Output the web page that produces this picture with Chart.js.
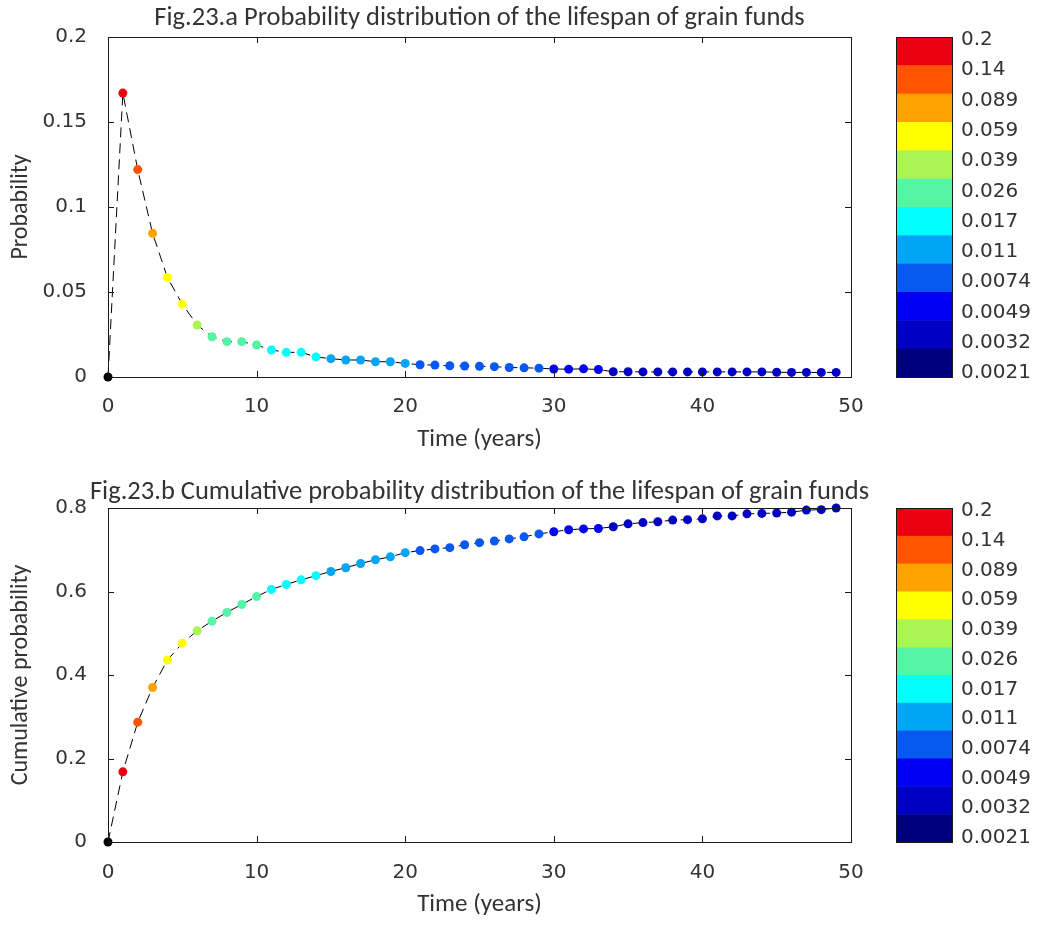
<!DOCTYPE html>
<html>
<head>
<meta charset="utf-8">
<script src="https://cdn.jsdelivr.net/npm/chart.js@4.4.1/dist/chart.umd.min.js"></script>
<style>
  html, body { margin: 0; padding: 0; background: #ffffff; }
  #wrap { position: relative; width: 1040px; height: 925px; background: #ffffff; }
  canvas { position: absolute; left: 0; }
</style>
</head>
<body>
<div id="wrap">
  <canvas id="pdf" width="1040" height="462" style="top:0px"></canvas>
  <canvas id="cdf" width="1040" height="463" style="top:462px"></canvas>
</div>
<script>
// Lifespan of grain funds, one value per year
const years = [0, 1, 2, 3, 4, 5, 6, 7, 8, 9,
  10, 11, 12, 13, 14, 15, 16, 17, 18, 19,
  20, 21, 22, 23, 24, 25, 26, 27, 28, 29,
  30, 31, 32, 33, 34, 35, 36, 37, 38, 39,
  40, 41, 42, 43, 44, 45, 46, 47, 48, 49];

const probability = [0, 0.167, 0.122, 0.0845, 0.0585, 0.0429, 0.0306, 0.0237, 0.0208, 0.0208,
  0.0188, 0.0159, 0.0145, 0.0145, 0.0118, 0.0108, 0.0100, 0.0100, 0.0090, 0.0090,
  0.0080, 0.0072, 0.0070, 0.0066, 0.0065, 0.0063, 0.0061, 0.0056, 0.0054, 0.0052,
  0.0047, 0.0046, 0.0048, 0.0044, 0.0031, 0.0031, 0.0030, 0.0030, 0.0030, 0.0030,
  0.0030, 0.0030, 0.0030, 0.0030, 0.0030, 0.0028, 0.0027, 0.0027, 0.0027, 0.0027];

const cumulative = [0, 0.168, 0.287, 0.370, 0.436, 0.476, 0.506, 0.529, 0.550, 0.569,
  0.588, 0.605, 0.617, 0.628, 0.638, 0.648, 0.657, 0.667, 0.676, 0.683,
  0.693, 0.698, 0.702, 0.705, 0.712, 0.717, 0.721, 0.726, 0.731, 0.738,
  0.743, 0.748, 0.750, 0.751, 0.755, 0.762, 0.765, 0.767, 0.771, 0.772,
  0.774, 0.781, 0.781, 0.786, 0.787, 0.788, 0.790, 0.795, 0.796, 0.800];

const xTicks = [0, 10, 20, 30, 40, 50];
const pdfTicks = [0, 0.05, 0.1, 0.15, 0.2];
const cdfTicks = [0, 0.2, 0.4, 0.6, 0.8];

// Colour bar, listed from top to bottom
const colorbarLabels = ['0.2', '0.14', '0.089', '0.059', '0.039', '0.026',
  '0.017', '0.011', '0.0074', '0.0049', '0.0032', '0.0021'];
const colorbarBands = ['#ea0010', '#ff5400', '#ffa200', '#ffff00', '#aaf552', '#55f5a5',
  '#00ffff', '#00a6f5', '#0758f0', '#0000f5', '#0000c2', '#00007e'];

const pdfTitle = 'Fig.23.a Probability distribution of the lifespan of grain funds';
const cdfTitle = 'Fig.23.b Cumulative probability distribution of the lifespan of grain funds';

const TICK_FONT = 'DejaVu Sans, Liberation Sans, Arial, sans-serif';
const TEXT_FONT = 'Carlito, Lato, "Open Sans", sans-serif';
const TEXT_COLOR = '#333333';

// Lower bound of each band, ascending (band 0 is below the smallest label)
const bandThresholds = colorbarLabels.slice(1).map(Number).reverse();
const bandsAscending = colorbarBands.slice().reverse();

function markerColor(v) {
  if (!(v > 0)) return '#000000';
  let idx = 0;
  for (const t of bandThresholds) if (v >= t) idx++;
  return bandsAscending[idx];
}

// Box, inward ticks on all four sides, plot title and colour bar
const framePlugin = {
  id: 'frame',
  afterDraw(chart, args, opts) {
    const { ctx, chartArea: a, scales } = chart;
    const tl = 6;
    ctx.save();
    ctx.strokeStyle = '#1a1a1a';
    ctx.lineWidth = 1;
    ctx.strokeRect(Math.round(a.left) + 0.5, Math.round(a.top) + 0.5,
      Math.round(a.right - a.left), Math.round(a.bottom - a.top));
    ctx.beginPath();
    scales.x.ticks.forEach(t => {
      const px = Math.round(scales.x.getPixelForValue(t.value)) + 0.5;
      ctx.moveTo(px, a.bottom); ctx.lineTo(px, a.bottom - tl);
      ctx.moveTo(px, a.top); ctx.lineTo(px, a.top + tl);
    });
    scales.y.ticks.forEach(t => {
      const py = Math.round(scales.y.getPixelForValue(t.value)) + 0.5;
      ctx.moveTo(a.left, py); ctx.lineTo(a.left + tl, py);
      ctx.moveTo(a.right, py); ctx.lineTo(a.right - tl, py);
    });
    ctx.stroke();

    // title
    ctx.fillStyle = TEXT_COLOR;
    ctx.font = opts.titleSize + 'px ' + TEXT_FONT;
    ctx.textAlign = 'center';
    ctx.textBaseline = 'middle';
    ctx.fillText(opts.title, (a.left + a.right) / 2, opts.titleY);

    // colour bar
    const cbLeft = 896, cbRight = 953;
    const h = a.bottom - a.top;
    const n = colorbarBands.length;
    colorbarBands.forEach((c, i) => {
      const y0 = a.top + h * i / n, y1 = a.top + h * (i + 1) / n;
      ctx.fillStyle = c;
      ctx.fillRect(cbLeft, y0, cbRight - cbLeft, y1 - y0 + 0.5);
    });
    ctx.strokeStyle = '#1a1a1a';
    ctx.strokeRect(cbLeft + 0.5, Math.round(a.top) + 0.5, cbRight - cbLeft - 1, Math.round(h));
    ctx.fillStyle = TEXT_COLOR;
    ctx.font = '20px ' + TICK_FONT;
    ctx.textAlign = 'left';
    const m = colorbarLabels.length - 1;
    colorbarLabels.forEach((s, i) => {
      const y = a.top + 3 + i * (h - 7) / m;
      ctx.fillText(s, 961, y);
    });
    ctx.restore();
  }
};

function makeChart(id, values, yTicks, yLabel, title, geom) {
  const canvas = document.getElementById(id);
  return new Chart(canvas, {
    type: 'line',
    data: {
      datasets: [{
        data: years.map((t, i) => ({ x: t, y: values[i] })),
        borderColor: '#000000',
        borderWidth: 1,
        borderDash: [10, 6],
        pointRadius: 4.5,
        pointHoverRadius: 4.5,
        pointBorderWidth: 0,
        pointBackgroundColor: c => markerColor(probability[c.dataIndex]),
        pointBorderColor: c => markerColor(probability[c.dataIndex]),
        tension: 0,
        clip: false
      }]
    },
    options: {
      responsive: false,
      animation: false,
      devicePixelRatio: 1,
      events: [],
      layout: { padding: { left: 0, right: 189, top: geom.top, bottom: 0 } },
      plugins: {
        legend: { display: false },
        tooltip: { enabled: false },
        frame: { title: title, titleY: geom.titleY, titleSize: geom.titleSize }
      },
      scales: {
        x: {
          type: 'linear',
          min: 0, max: 50,
          afterBuildTicks: s => { s.ticks = xTicks.map(v => ({ value: v })); },
          afterFit: s => { s.height = geom.xAxisH; },
          grid: { display: false, drawTicks: false },
          border: { display: false },
          ticks: {
            padding: geom.xTickPad,
            color: TEXT_COLOR,
            font: { family: TICK_FONT, size: 20 },
            callback: v => String(v)
          },
          title: {
            display: true,
            text: 'Time (years)',
            color: TEXT_COLOR,
            font: { family: TEXT_FONT, size: 25 },
            padding: { top: 0, bottom: geom.xTitlePad }
          }
        },
        y: {
          type: 'linear',
          min: yTicks[0], max: yTicks[yTicks.length - 1],
          afterBuildTicks: s => { s.ticks = yTicks.map(v => ({ value: v })); },
          afterFit: s => { s.width = 108; },
          grid: { display: false, drawTicks: false },
          border: { display: false },
          ticks: {
            padding: 21,
            color: TEXT_COLOR,
            font: { family: TICK_FONT, size: 20 },
            callback: v => String(+Number(v).toFixed(4))
          },
          title: {
            display: true,
            text: yLabel,
            color: TEXT_COLOR,
            font: { family: TEXT_FONT, size: 24 },
            padding: { top: 7, bottom: 0 }
          }
        }
      }
    },
    plugins: [framePlugin]
  });
}

makeChart('pdf', probability, pdfTicks, 'Probability', pdfTitle,
  { top: 37, xAxisH: 85, xTickPad: 18, xTitlePad: 7, titleY: 18, titleSize: 26.5 });
makeChart('cdf', cumulative, cdfTicks, 'Cumulative probability', cdfTitle,
  { top: 46, xAxisH: 83, xTickPad: 19, xTitlePad: 5, titleY: 30, titleSize: 26.5 });
</script>
</body>
</html>
